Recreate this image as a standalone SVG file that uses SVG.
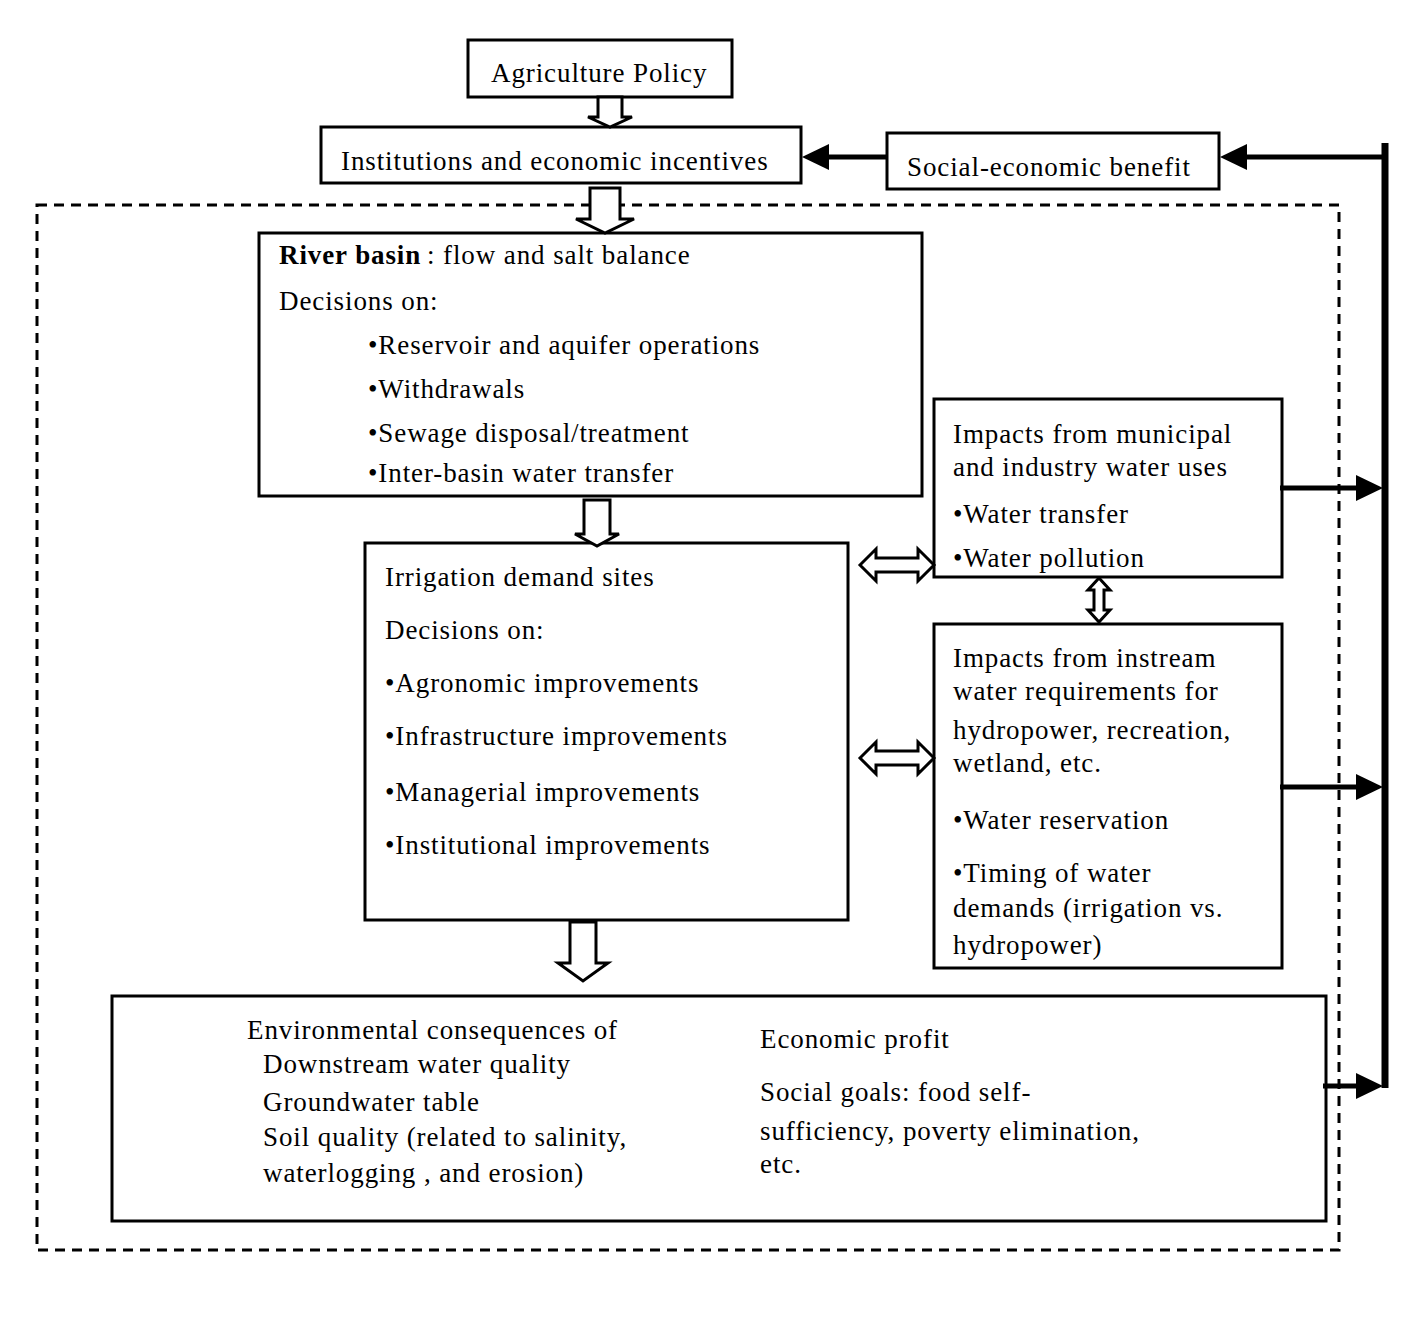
<svg xmlns="http://www.w3.org/2000/svg" width="1408" height="1321" viewBox="0 0 1408 1321">
<style>
.box{fill:#fff;stroke:#000;stroke-width:3}
.hol{fill:#fff;stroke:#000;stroke-width:3;stroke-linejoin:miter}
.t{font-family:"Liberation Serif","Times New Roman",serif;font-size:27px;letter-spacing:0.9px;fill:#000}
.b{font-weight:bold}
.ln{stroke:#000;stroke-width:5;fill:none}
.hd{fill:#000}
</style>
<rect width="1408" height="1321" fill="#fff"/>
<rect x="37" y="205" width="1302" height="1045" fill="none" stroke="#000" stroke-width="3" stroke-dasharray="10 7"/>
<g id="agri"><rect class="box" x="468" y="40" width="264" height="57"/><text class="t" x="491" y="82">Agriculture Policy</text></g>
<g id="inst"><rect class="box" x="321" y="127" width="480" height="56"/><text class="t" x="341" y="170">Institutions and economic incentives</text></g>
<g id="social"><rect class="box" x="887" y="133" width="332" height="56"/><text class="t" x="907" y="176">Social-economic benefit</text></g>
<g id="river"><rect class="box" x="259" y="233" width="663" height="263"/>
<text class="t" x="279" y="264"><tspan class="b">River basin</tspan><tspan x="427">: flow and salt balance</tspan></text>
<text class="t" x="279" y="310">Decisions on:</text>
<text class="t" x="368" y="354">•Reservoir and aquifer operations</text>
<text class="t" x="368" y="398">•Withdrawals</text>
<text class="t" x="368" y="442">•Sewage disposal/treatment</text>
<text class="t" x="368" y="482">•Inter-basin water transfer</text></g>
<g id="irrig"><rect class="box" x="365" y="543" width="483" height="377"/>
<text class="t" x="385" y="586">Irrigation demand sites</text>
<text class="t" x="385" y="639">Decisions on:</text>
<text class="t" x="385" y="692">•Agronomic improvements</text>
<text class="t" x="385" y="745">•Infrastructure improvements</text>
<text class="t" x="385" y="801">•Managerial improvements</text>
<text class="t" x="385" y="854">•Institutional improvements</text></g>
<g id="municipal"><rect class="box" x="934" y="399" width="348" height="178"/>
<text class="t" x="953" y="443">Impacts from municipal</text>
<text class="t" x="953" y="476">and industry water uses</text>
<text class="t" x="953" y="523">•Water transfer</text>
<text class="t" x="953" y="567">•Water pollution</text></g>
<g id="instream"><rect class="box" x="934" y="624" width="348" height="344"/>
<text class="t" x="953" y="667">Impacts from instream</text>
<text class="t" x="953" y="700">water requirements for</text>
<text class="t" x="953" y="739">hydropower, recreation,</text>
<text class="t" x="953" y="772">wetland, etc.</text>
<text class="t" x="953" y="829">•Water reservation</text>
<text class="t" x="953" y="882">•Timing of water</text>
<text class="t" x="953" y="917">demands (irrigation vs.</text>
<text class="t" x="953" y="954">hydropower)</text></g>
<g id="outcomes"><rect class="box" x="112" y="996" width="1214" height="225"/>
<text class="t" x="247" y="1039">Environmental consequences of</text>
<text class="t" x="263" y="1073">Downstream water quality</text>
<text class="t" x="263" y="1111">Groundwater table</text>
<text class="t" x="263" y="1146">Soil quality (related to salinity,</text>
<text class="t" x="263" y="1182">waterlogging , and erosion)</text>
<text class="t" x="760" y="1048">Economic profit</text>
<text class="t" x="760" y="1101">Social goals: food self-</text>
<text class="t" x="760" y="1140">sufficiency, poverty elimination,</text>
<text class="t" x="760" y="1173">etc.</text></g>
<g id="connectors">
<polygon class="hol" points="598,97 622,97 622,117 632,117 610,127 588,117 598,117"/>
<polygon class="hol" points="590,188 620,188 620,219 634,219 605,233 576,219 590,219"/>
<polygon class="hol" points="584,500 610,500 610,534 619,534 597,546 575,534 584,534"/>
<polygon class="hol" points="570,922 596,922 596,963 608,963 583,981 558,963 570,963"/>
<polygon class="hol" points="860,565 876,549 876,558 918,558 918,549 934,565 918,581 918,572 876,572 876,581"/>
<polygon class="hol" points="860,758 876,742 876,751 918,751 918,742 934,758 918,774 918,765 876,765 876,774"/>
<polygon class="hol" points="1099,578 1110,590 1104,590 1104,610 1110,610 1099,622 1088,610 1094,610 1094,590 1088,590"/>
<line x1="1385" y1="143" x2="1385" y2="1088" stroke="#000" stroke-width="7"/>
<line class="ln" x1="1385" y1="157" x2="1245" y2="157"/>
<polygon class="hd" points="1220,157 1247,144 1247,170"/>
<line class="ln" x1="887" y1="157" x2="828" y2="157"/>
<polygon class="hd" points="802,157 829,144 829,170"/>
<line class="ln" x1="1280" y1="488" x2="1358" y2="488"/>
<polygon class="hd" points="1383,488 1356,475 1356,501"/>
<line class="ln" x1="1280" y1="787" x2="1358" y2="787"/>
<polygon class="hd" points="1383,787 1356,774 1356,800"/>
<line class="ln" x1="1323" y1="1086" x2="1358" y2="1086"/>
<polygon class="hd" points="1383,1086 1356,1073 1356,1099"/>
</g>
</svg>
